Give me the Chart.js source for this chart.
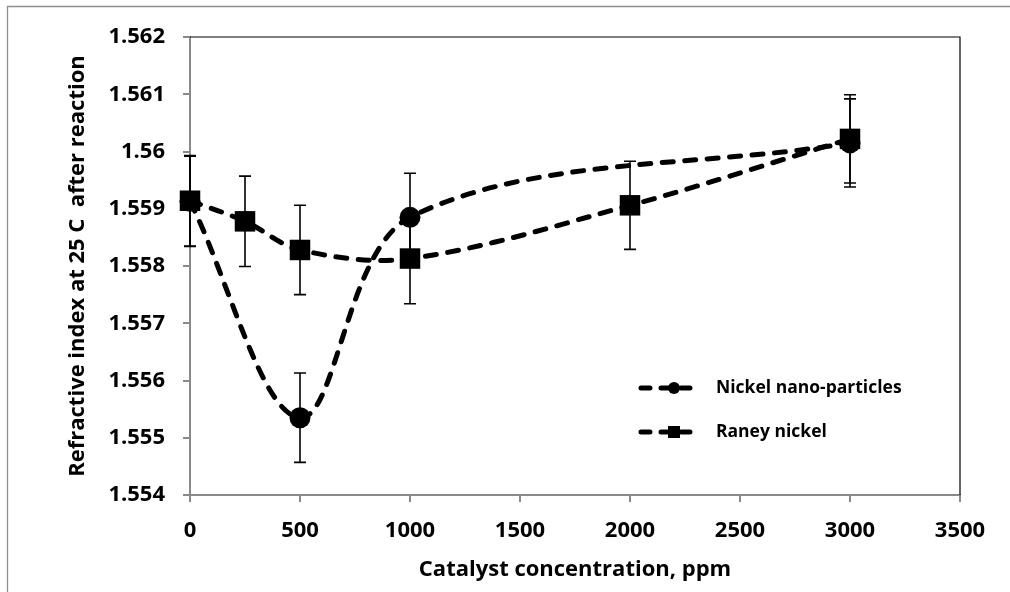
<!DOCTYPE html>
<html>
<head>
<meta charset="utf-8">
<script src="https://cdn.jsdelivr.net/npm/chart.js@4.4.1/dist/chart.umd.min.js"></script>
<style>
html,body{margin:0;padding:0;background:#fff}
#wrap{width:1010px;height:592px}
</style>
</head>
<body>
<div id="wrap"><canvas id="chart" width="1010" height="592"></canvas></div>
<script>
let seriesNames=["Nickel nano-particles","Raney nickel"]

let nanoX=[0,500,1000,3000]
let nanoY=[1.55913,1.55535,1.55885,1.56015]
let nanoErr=[0.00079,0.00078,0.00077,0.00077]

let raneyX=[0,250,500,1000,2000,3000]
let raneyY=[1.55914,1.55878,1.55828,1.55813,1.55906,1.56022]
let raneyErr=[0.00079,0.00079,0.00078,0.00079,0.00077,0.00077]

let xTicks=[0,500,1000,1500,2000,2500,3000,3500]
let yTicks=[1.554,1.555,1.556,1.557,1.558,1.559,1.56,1.561,1.562]

let FONT="'Open Sans'"
let AXIS="#898989"


function points(xs,ys){
  return xs.map((x,i)=>({x:x,y:ys[i]}))
}


// outer frame + black top/right border of plot
const framePlugin={
  id:"frame",
  beforeDraw(chart){
    let ctx=chart.ctx
    ctx.save()
    ctx.strokeStyle="#8e8e8e"
    ctx.lineWidth=1.3
    ctx.beginPath()
    ctx.moveTo(1010,6.5)
    ctx.lineTo(7.5,6.5)
    ctx.lineTo(7.5,592)
    ctx.stroke()
    ctx.restore()
  },
  beforeDatasetsDraw(chart){
    let a=chart.chartArea
    let ctx=chart.ctx
    ctx.save()
    ctx.strokeStyle="#000"
    ctx.lineWidth=1.2
    ctx.beginPath()
    ctx.moveTo(a.left,a.top)
    ctx.lineTo(a.right,a.top)
    ctx.lineTo(a.right,a.bottom)
    ctx.stroke()
    ctx.restore()
  }
}


// vertical error bars read from the err arrays
const errorPlugin={
  id:"errorBars",
  beforeDatasetsDraw(chart){
    let ctx=chart.ctx
    let xs=chart.scales.x
    let ys=chart.scales.y
    let sets=[[nanoX,nanoY,nanoErr],[raneyX,raneyY,raneyErr]]
    ctx.save()
    ctx.strokeStyle="#000"
    ctx.lineWidth=1.6
    sets.forEach(s=>{
      s[0].forEach((x,i)=>{
        let px=xs.getPixelForValue(x)
        let top=ys.getPixelForValue(s[1][i]+s[2][i])
        let bot=ys.getPixelForValue(s[1][i]-s[2][i])
        ctx.beginPath()
        ctx.moveTo(px,top)
        ctx.lineTo(px,bot)
        ctx.moveTo(px-6,top)
        ctx.lineTo(px+6,top)
        ctx.moveTo(px-6,bot)
        ctx.lineTo(px+6,bot)
        ctx.stroke()
      })
    })
    ctx.restore()
  }
}


// legend drawn inside the plot area
const legendPlugin={
  id:"insideLegend",
  afterDatasetsDraw(chart){
    let ctx=chart.ctx
    let rows=[{y:388,style:"circle"},{y:432,style:"rect"}]
    ctx.save()
    rows.forEach((r,i)=>{
      ctx.strokeStyle="#000"
      ctx.lineWidth=5
      ctx.lineCap="round"
      ctx.setLineDash([9,11])
      ctx.beginPath()
      ctx.moveTo(641,r.y)
      ctx.lineTo(700,r.y)
      ctx.stroke()
      ctx.setLineDash([])
      ctx.fillStyle="#000"
      if(r.style=="circle"){
        ctx.beginPath()
        ctx.arc(674,r.y,6,0,Math.PI*2)
        ctx.fill()
      }else{
        ctx.fillRect(668,r.y-6,12,12)
      }
      ctx.font="bold 17.5px "+FONT
      ctx.textBaseline="middle"
      ctx.textAlign="left"
      ctx.fillText(seriesNames[i],716,r.y)
    })
    ctx.restore()
  }
}


let lineStyle={
  borderColor:"#000",
  backgroundColor:"#000",
  borderWidth:5,
  borderDash:[11,11.5],
  borderCapStyle:"round",
  tension:0.34,
  pointBorderWidth:0,
  fill:false,
  clip:false
}

new Chart(document.getElementById("chart"),{

type:"line",

data:{
  datasets:[
    Object.assign({label:seriesNames[0],data:points(nanoX,nanoY),pointStyle:"circle",pointRadius:10.5},lineStyle),
    Object.assign({label:seriesNames[1],data:points(raneyX,raneyY),pointStyle:"rect",pointRadius:14.5},lineStyle)
  ]
},

options:{
  responsive:false,
  animation:false,
  devicePixelRatio:1,
  layout:{padding:{left:0,top:37,right:50,bottom:0}},
  plugins:{
    legend:{display:false},
    tooltip:{enabled:false}
  },
  scales:{
    x:{
      type:"linear",
      min:0,
      max:3500,
      afterBuildTicks:s=>{s.ticks=xTicks.map(v=>({value:v}))},
      afterFit:s=>{s.height=97},
      border:{color:AXIS,width:2},
      grid:{drawOnChartArea:false,drawTicks:true,tickLength:7,color:AXIS,lineWidth:2},
      ticks:{color:"#000",padding:16,callback:v=>String(v),
        font:{family:FONT,size:22,weight:"bold"}},
      title:{display:true,text:"Catalyst concentration, ppm",color:"#000",
        padding:{top:0,bottom:9},font:{family:FONT,size:22,weight:"bold"}}
    },
    y:{
      min:1.554,
      max:1.562,
      afterBuildTicks:s=>{s.ticks=yTicks.map(v=>({value:v}))},
      afterFit:s=>{s.width=190},
      border:{color:AXIS,width:2},
      grid:{drawOnChartArea:false,drawTicks:true,tickLength:7,color:AXIS,lineWidth:2},
      ticks:{color:"#000",padding:18,
        callback:v=>String(parseFloat(v.toFixed(3))),
        font:{family:FONT,size:22,weight:"bold"}},
      title:{display:true,text:"Refractive index at 25 C  after reaction",color:"#000",
        padding:{top:65,bottom:0},font:{family:FONT,size:22,weight:"bold"}}
    }
  }
},

plugins:[framePlugin,errorPlugin,legendPlugin]

})
</script>
</body>
</html>
